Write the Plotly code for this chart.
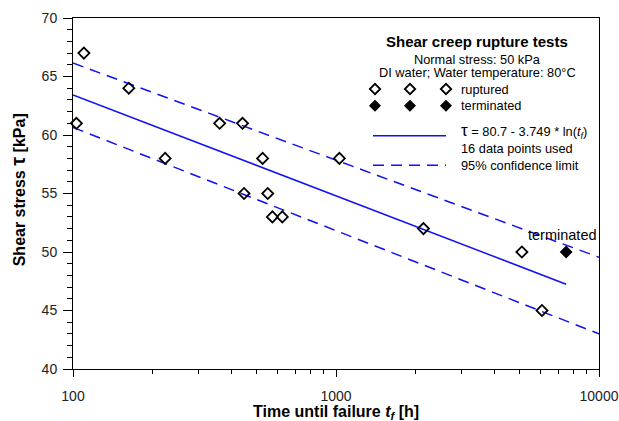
import plotly.graph_objects as go

# ---------------- data ----------------
ruptured_t = [103, 110, 163, 224, 361, 441, 447, 526, 550, 573, 625, 1030, 2150, 5090, 6070]
ruptured_tau = [61, 67, 64, 58, 61, 61, 55, 58, 55, 53, 53, 58, 52, 50, 45]
terminated_t = [7500]
terminated_tau = [50]
fit_t = [100, 7500]
fit_tau = [63.43, 47.25]
conf_t = [100, 10000]
conf_upper = [66.15, 49.55]
conf_lower = [60.65, 43.0]
x_tickvals = [100, 1000, 10000]
x_ticktext = ["100", "1000", "10000"]
x_minor = [200, 300, 400, 500, 600, 700, 800, 900, 2000, 3000, 4000, 5000, 6000, 7000, 8000, 9000]

FONT = "Liberation Sans, Arial, sans-serif"
BLUE = "#1010f0"
W, H = 619, 421
ML, MR, MT, MB = 73, 20, 18, 52

fig = go.Figure()

# confidence limits
fig.add_trace(go.Scatter(x=conf_t, y=conf_upper, mode="lines",
                         line=dict(color=BLUE, width=1.5, dash="11px,7px"), showlegend=False))
fig.add_trace(go.Scatter(x=conf_t, y=conf_lower, mode="lines",
                         line=dict(color=BLUE, width=1.5, dash="11px,7px"), showlegend=False))
# fit line
fig.add_trace(go.Scatter(x=fit_t, y=fit_tau, mode="lines",
                         line=dict(color=BLUE, width=1.5), showlegend=False))
# data points
fig.add_trace(go.Scatter(x=ruptured_t, y=ruptured_tau, mode="markers",
                         marker=dict(symbol="diamond-open", size=8.5, color="black",
                                     line=dict(width=1.8, color="black")),
                         showlegend=False, cliponaxis=False))
fig.add_trace(go.Scatter(x=terminated_t, y=terminated_tau, mode="markers",
                         marker=dict(symbol="diamond", size=8.5, color="black",
                                     line=dict(width=1.2, color="black")),
                         showlegend=False))

# ---------------- custom legend (pixel-space helper axes) ----------------
LEG_MX = [375, 410, 446]
LEG_TX = 459
LEG_CX = 477
fig.add_trace(go.Scatter(x=LEG_MX, y=[89] * 3, mode="markers", xaxis="x3", yaxis="y3",
                         marker=dict(symbol="diamond-open", size=8, color="black",
                                     line=dict(width=1.8, color="black")), showlegend=False))
fig.add_trace(go.Scatter(x=LEG_MX, y=[105.7] * 3, mode="markers", xaxis="x3", yaxis="y3",
                         marker=dict(symbol="diamond", size=8, color="black",
                                     line=dict(width=1.2, color="black")), showlegend=False))
fig.add_trace(go.Scatter(x=[373, 446], y=[135.7, 135.7], mode="lines", xaxis="x3", yaxis="y3",
                         line=dict(color=BLUE, width=1.5), showlegend=False))
fig.add_trace(go.Scatter(x=[373, 446], y=[165.3, 165.3], mode="lines", xaxis="x3", yaxis="y3",
                         line=dict(color=BLUE, width=1.5, dash="11px,7px"), showlegend=False))

ann = []
def txt(x, y, s, size=12.8, xanchor="left", ref="3", **kw):
    ann.append(dict(x=x, y=y, xref="x" + ref, yref="y" + ref, text=s, showarrow=False,
                    xanchor=xanchor, yanchor="middle",
                    font=dict(family=FONT, size=size, color="black"), **kw))

txt(LEG_CX, 41.7, "<b>Shear creep rupture tests</b>", size=15, xanchor="center")
txt(LEG_CX, 59, "Normal stress: 50 kPa", xanchor="center")
txt(LEG_CX, 72.7, "DI water; Water temperature: 80°C", xanchor="center")
txt(LEG_TX, 89, "ruptured")
txt(LEG_TX, 105.7, "terminated")
txt(LEG_TX, 131.2, "<span style='font-size:17px'>τ</span> = 80.7 - 3.749 * ln(<i>t</i><sub><i>f</i></sub>)")
txt(LEG_TX, 148.2, "16 data points used")
txt(LEG_TX, 165.3, "95% confidence limit")
txt(562.3, 235, "terminated", size=14.5, xanchor="center")

pw, ph = W - ML - MR, H - MT - MB
# axis titles
ann.append(dict(x=0.5, y=-(412 - (H - MB)) / ph, xref="paper", yref="paper",
                text="<b>Time until failure <i>t</i><sub><i>f</i></sub> [h]</b>",
                showarrow=False, xanchor="center", yanchor="middle",
                font=dict(family=FONT, size=16, color="black")))
ann.append(dict(x=(18.3 - ML) / pw, y=((H - MB) - 190) / ph, xref="paper", yref="paper",
                text="<b>Shear stress <span style='font-size:20px'>τ</span> [kPa]</b>",
                showarrow=False, xanchor="center", yanchor="middle", textangle=-90,
                font=dict(family=FONT, size=16, color="black")))

fig.update_layout(
    width=W, height=H, autosize=False,
    margin=dict(l=ML, r=MR, t=MT, b=MB, pad=0, autoexpand=False),
    paper_bgcolor="white", plot_bgcolor="white",
    font=dict(family=FONT, color="black"),
    showlegend=False,
    annotations=ann,
    xaxis=dict(type="log", range=[2, 4], tickmode="array", tickvals=x_tickvals, ticktext=x_ticktext,
               ticks="outside", ticklen=7, tickwidth=1, tickcolor="black",
               showline=True, linecolor="black", linewidth=1, mirror=True,
               showgrid=False, zeroline=False, automargin=False, ticklabelstandoff=7,
               tickfont=dict(family=FONT, size=14, color="#222"),
               minor=dict(tickmode="array", tickvals=x_minor, ticks="outside", ticklen=4,
                          tickcolor="black", tickwidth=1, showgrid=False)),
    yaxis=dict(range=[40, 70], tickmode="linear", tick0=40, dtick=5,
               ticks="outside", ticklen=9, tickwidth=1, tickcolor="black",
               showline=True, linecolor="black", linewidth=1, mirror=True,
               showgrid=False, zeroline=False, ticklabelstandoff=3, automargin=False,
               tickfont=dict(family=FONT, size=14, color="#222"),
               minor=dict(dtick=1, ticks="outside", ticklen=5, tickcolor="black",
                          tickwidth=1, showgrid=False)),
    xaxis3=dict(domain=[0, 1], range=[ML, W - MR], visible=False, overlaying="x", anchor="y3"),
    yaxis3=dict(domain=[0, 1], range=[H - MB, MT], visible=False, overlaying="y", anchor="x3"),
)

fig.write_html("out.html", config={"displayModeBar": False},
               post_script="document.body.style.margin='0px';document.body.style.overflow='hidden';")
